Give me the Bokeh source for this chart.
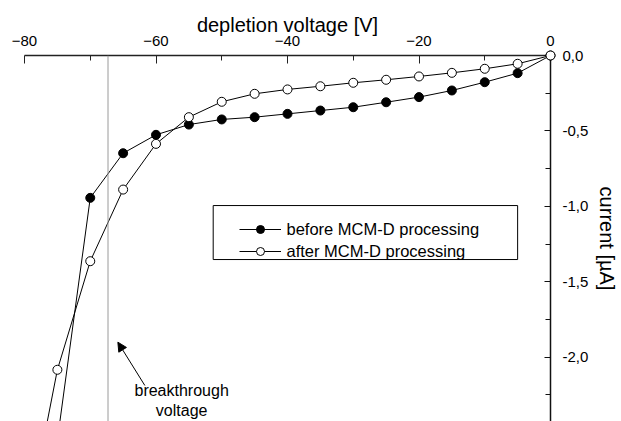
from bokeh.plotting import figure
from bokeh.models import (Range1d, LinearAxis, FixedTicker, CustomJSTickFormatter, Span,
                          Legend, LegendItem, BoxAnnotation, Arrow, NormalHead, Label)
from bokeh.embed import file_html
from bokeh.resources import INLINE

# ---- data ----
voltage = [0, -5, -10, -15, -20, -25, -30, -35, -40, -45, -50, -55, -60, -65, -70, -75, -80]
current_before = [0.0, -0.117, -0.177, -0.232, -0.276, -0.310, -0.343, -0.365, -0.387, -0.409,
                  -0.424, -0.458, -0.526, -0.648, -0.944, -2.55]
current_after = [0.0, -0.055, -0.088, -0.115, -0.139, -0.161, -0.181, -0.204, -0.225, -0.254,
                 -0.307, -0.409, -0.586, -0.889, -1.364, -2.084, -3.2]
x_ticks = [-80, -60, -40, -20, 0]
x_minor = [-70, -50, -30, -10]
y_ticks = [0.0, -0.5, -1.0, -1.5, -2.0]
y_minor = [-0.25, -0.75, -1.25, -1.75, -2.25]
breakthrough_voltage = -67.3

FONT = "Liberation Sans"

p = figure(width=621, height=421, x_range=Range1d(-80, 0), y_range=Range1d(-2.427, 0),
           output_backend="svg", toolbar_location=None,
           x_axis_location=None, y_axis_location=None,
           min_border_left=24, min_border_right=67, min_border_top=55, min_border_bottom=0)
p.outline_line_color = None
p.xgrid.visible = False
p.ygrid.visible = False
p.background_fill_color = "white"
p.border_fill_color = "white"

# top axis
xa = LinearAxis(ticker=FixedTicker(ticks=x_ticks, minor_ticks=x_minor),
                axis_label="depletion voltage [V]")
xa.axis_label_text_font = FONT
xa.axis_label_text_font_size = "20px"
xa.axis_label_text_font_style = "normal"
xa.axis_label_text_color = "black"
xa.axis_label_standoff = -3
xa.major_label_text_font = FONT
xa.major_label_text_font_size = "15px"
xa.major_label_text_color = "black"
xa.major_label_standoff = 10
xa.major_tick_in = 8
xa.major_tick_out = 0
xa.minor_tick_in = 5
xa.minor_tick_out = 0
xa.axis_line_width = 1.5
xa.axis_line_color = "#222222"
xa.major_tick_line_color = "#222222"
xa.minor_tick_line_color = "#222222"
p.add_layout(xa, "above")

# right axis
ya = LinearAxis(ticker=FixedTicker(ticks=y_ticks, minor_ticks=y_minor),
                axis_label="current [µA]",
                formatter=CustomJSTickFormatter(code="""
                    const s = Math.abs(tick) < 1e-9 ? '0.0' : tick.toFixed(1);
                    return s.replace('.', ',');
                """))
ya.axis_label_text_font = FONT
ya.axis_label_text_font_size = "20px"
ya.axis_label_text_font_style = "normal"
ya.axis_label_text_color = "black"
ya.axis_label_standoff = 5
ya.major_label_text_font = FONT
ya.major_label_text_font_size = "15px"
ya.major_label_text_color = "black"
ya.major_label_standoff = 12
ya.major_tick_in = 6
ya.major_tick_out = 0
ya.minor_tick_in = 5
ya.minor_tick_out = 0
ya.axis_line_width = 1.5
ya.axis_line_color = "#111111"
ya.major_tick_line_color = "#111111"
ya.minor_tick_line_color = "#111111"
p.add_layout(ya, "right")

# breakthrough voltage marker line
p.add_layout(Span(location=breakthrough_voltage, dimension="height",
                  line_color="#9a9a9a", line_width=1))

# data
v_before = voltage[:len(current_before)]
v_after = voltage[:len(current_after)]
l1 = p.line(v_before, current_before, line_color="black", line_width=1)
s1 = p.scatter(v_before, current_before, size=9, fill_color="black", line_color="black",
               line_width=1, level="overlay")
l2 = p.line(v_after, current_after, line_color="black", line_width=1)
s2 = p.scatter(v_after, current_after, size=9, fill_color="white", line_color="black",
               line_width=1, level="overlay")

# legend frame
p.add_layout(BoxAnnotation(left=-51.3, right=-5.0, top=-0.995, bottom=-1.353,
                           fill_color=None, fill_alpha=0, line_color="black",
                           line_alpha=1.0, line_width=1))
legend = Legend(items=[LegendItem(label="before MCM-D processing", renderers=[l1, s1]),
                       LegendItem(label="after MCM-D processing", renderers=[l2, s2])],
                location=(214.5, 160), padding=6, spacing=2, glyph_width=42, glyph_height=20,
                label_height=20, label_standoff=6, border_line_color=None,
                background_fill_alpha=0, label_text_font=FONT, label_text_font_size="16.5px",
                label_text_color="black")
p.add_layout(legend)

# annotation
p.add_layout(Arrow(end=NormalHead(size=9, fill_color="black", line_color="black"),
                   x_start=-61.7, y_start=-2.188, x_end=-65.8, y_end=-1.901,
                   line_color="black", line_width=1))
for txt, yy in [("breakthrough", -2.222), ("voltage", -2.354)]:
    p.add_layout(Label(x=-56.1, y=yy, text=txt, text_align="center", text_baseline="middle",
                       text_font=FONT, text_font_size="16px", text_color="black"))

open("out.html", "w").write(file_html(p, INLINE))
